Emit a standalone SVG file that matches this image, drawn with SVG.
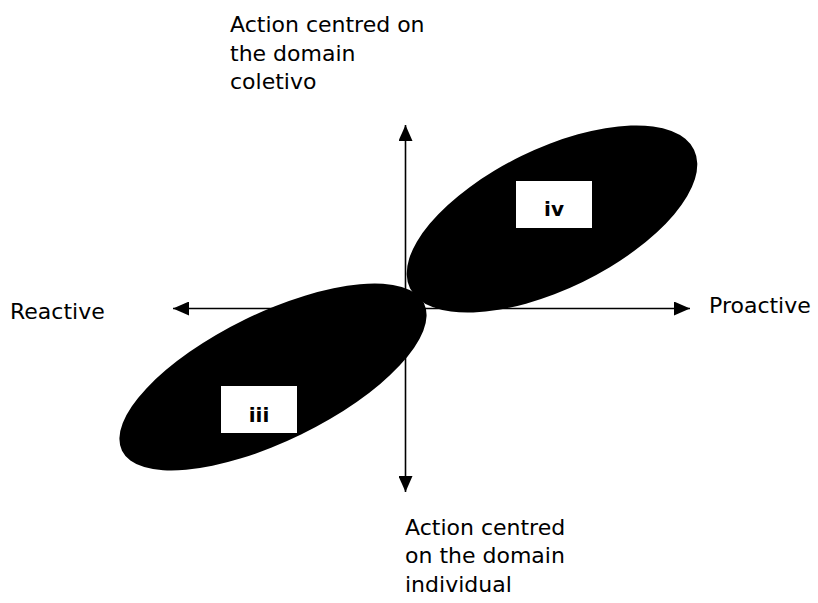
<svg xmlns="http://www.w3.org/2000/svg" width="818" height="603" viewBox="0 0 818 603">
<style>
.t{font-family:"DejaVu Sans","Liberation Sans",sans-serif;font-size:22px;fill:#000}
.b{font-family:"DejaVu Sans","Liberation Sans",sans-serif;font-size:20px;font-weight:bold;fill:#000;text-anchor:middle}
.ax{stroke:#000;stroke-width:1.6;fill:none}
</style>
<defs>
<marker id="ah" viewBox="0 0 16 14" refX="16" refY="7" markerWidth="16" markerHeight="14" markerUnits="userSpaceOnUse" orient="auto">
<path d="M0,0 L16,7 L0,14 Z" fill="#000"/>
</marker>
</defs>
<rect width="818" height="603" fill="#fff"/>
<g id="connectors">
<line class="ax" x1="405.5" y1="308.5" x2="173" y2="308.5" marker-end="url(#ah)"/>
<line class="ax" x1="405.5" y1="308.5" x2="690" y2="308.5" marker-end="url(#ah)"/>
<line class="ax" x1="405.5" y1="308.5" x2="405.5" y2="125" marker-end="url(#ah)"/>
<line class="ax" x1="405.5" y1="308.5" x2="405.5" y2="492" marker-end="url(#ah)"/>
</g>
<g id="node-iv">
<ellipse cx="552" cy="219" rx="158" ry="70" transform="rotate(-26 552 219)" fill="#000"/>
<rect x="516" y="181" width="76" height="47" fill="#fff"/>
<text class="b" x="554" y="216">iv</text>
</g>
<g id="node-iii">
<ellipse cx="273" cy="377" rx="168" ry="64" transform="rotate(-26 273 377)" fill="#000"/>
<rect x="221" y="386" width="76" height="47" fill="#fff"/>
<text class="b" x="259" y="422">iii</text>
</g>
<g id="label-top">
<text class="t" x="230" y="32">Action centred on</text>
<text class="t" x="230" y="61">the domain</text>
<text class="t" x="230" y="89">coletivo</text>
</g>
<g id="label-bottom">
<text class="t" x="405" y="535">Action centred</text>
<text class="t" x="405" y="563">on the domain</text>
<text class="t" x="405" y="592">individual</text>
</g>
<g id="label-left">
<text class="t" x="10" y="319">Reactive</text>
</g>
<g id="label-right">
<text class="t" x="709" y="313">Proactive</text>
</g>
</svg>
